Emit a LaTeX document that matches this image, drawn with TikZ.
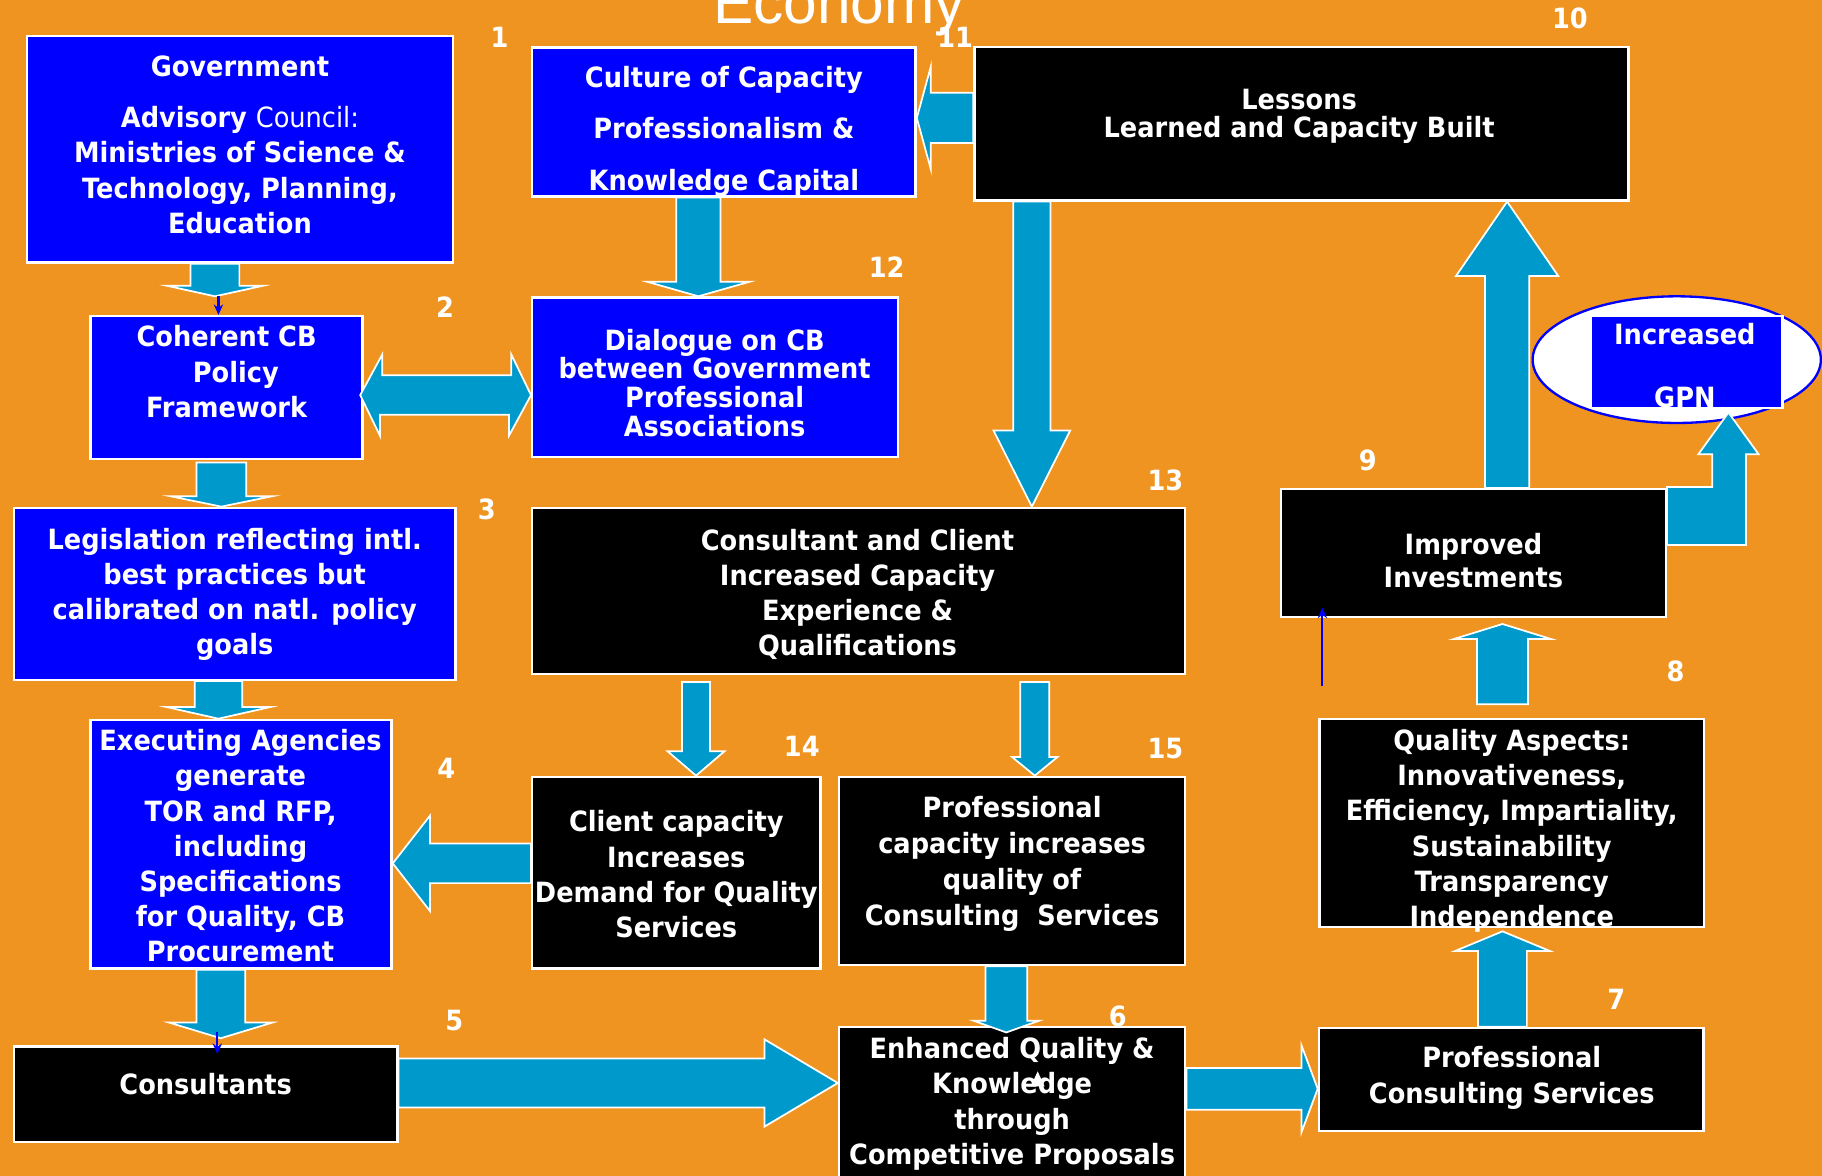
\documentclass[tikz,border=0pt]{standalone}
\usepackage{fontspec}
\setmainfont{DejaVu Sans}[FakeStretch=0.92]
\newfontfamily\titlefont{Liberation Sans}
\usetikzlibrary{calc,arrows.meta,shapes.geometric}

\definecolor{bgorange}{RGB}{239,148,32}
\definecolor{pureblue}{RGB}{0,0,255}
\definecolor{flowcyan}{RGB}{0,153,204}

\tikzset{
  bluebox/.style={draw=white, line width=2pt, fill=pureblue, inner sep=0pt},
  blackbox/.style={draw=white, line width=2pt, fill=black, inner sep=0pt},
  boxtext/.style={text=white, align=center, inner sep=0pt,
    font=\fontsize{24}{#1}\selectfont\bfseries},
  boxtext/.default=30.4,
  numlabel/.style={text=white, inner sep=0pt, font=\fontsize{24}{28}\selectfont\bfseries},
  blockarrow/.style={fill=flowcyan, draw=white, line width=1.5pt, line join=miter},
  thinarrow/.style={draw=pureblue, line width=1.8pt, -{Stealth[length=9pt,width=8pt]}},
}

% block arrows: #1 = position across, #2 = tail, #3 = tip,
% #4 = half shaft width, #5 = half head width, #6 = head length
\newcommand\arrowdown[6]{%
  \draw[blockarrow] let \p1=#2, \p2=#3 in
    (#1pt-#4pt,\y1) -- (#1pt+#4pt,\y1) -- (#1pt+#4pt,\y2+#6pt) -- (#1pt+#5pt,\y2+#6pt)
    -- (#1pt,\y2) -- (#1pt-#5pt,\y2+#6pt) -- (#1pt-#4pt,\y2+#6pt) -- cycle;}
\newcommand\arrowup[6]{%
  \draw[blockarrow] let \p1=#2, \p2=#3 in
    (#1pt-#4pt,\y1) -- (#1pt+#4pt,\y1) -- (#1pt+#4pt,\y2-#6pt) -- (#1pt+#5pt,\y2-#6pt)
    -- (#1pt,\y2) -- (#1pt-#5pt,\y2-#6pt) -- (#1pt-#4pt,\y2-#6pt) -- cycle;}
\newcommand\arrowright[6]{%
  \draw[blockarrow] let \p1=#2, \p2=#3 in
    (\x1,-#1pt+#4pt) -- (\x2-#6pt,-#1pt+#4pt) -- (\x2-#6pt,-#1pt+#5pt) -- (\x2,-#1pt)
    -- (\x2-#6pt,-#1pt-#5pt) -- (\x2-#6pt,-#1pt-#4pt) -- (\x1,-#1pt-#4pt) -- cycle;}
\newcommand\arrowleft[6]{%
  \draw[blockarrow] let \p1=#2, \p2=#3 in
    (\x1,-#1pt+#4pt) -- (\x2+#6pt,-#1pt+#4pt) -- (\x2+#6pt,-#1pt+#5pt) -- (\x2,-#1pt)
    -- (\x2+#6pt,-#1pt-#5pt) -- (\x2+#6pt,-#1pt-#4pt) -- (\x1,-#1pt-#4pt) -- cycle;}

\begin{document}
\begin{tikzpicture}[x=1pt,y=-1pt]
\clip (0,0) rectangle (1568,1012);
\fill[bgorange] (0,0) rectangle (1568,1012);

% title
\node[text=white, inner sep=0pt, anchor=base, font=\titlefont\fontsize{52}{60}\selectfont]
  (title) at (722,20) {Economy};

% boxes
\node[bluebox,  minimum width=367pt, minimum height=195pt] (gov) at (206.5,128.5) {};
\node[bluebox,  minimum width=234pt, minimum height=123pt] (cb)  at (195,333.5) {};
\node[bluebox,  minimum width=380pt, minimum height=148pt] (leg) at (202,511) {};
\node[bluebox,  minimum width=259pt, minimum height=214pt] (exe) at (207.5,726.5) {};
\node[blackbox, minimum width=330pt, minimum height=82pt]  (cons) at (177,941.5) {};
\node[blackbox, minimum width=298pt, minimum height=146pt] (enh) at (871,957) {};
\node[blackbox, minimum width=331pt, minimum height=89pt]  (pcs) at (1300.5,929) {};
\node[blackbox, minimum width=331pt, minimum height=179pt] (qa)  at (1301,708.5) {};
\node[blackbox, minimum width=331pt, minimum height=110pt] (imp) at (1268,476) {};
\node[blackbox, minimum width=563pt, minimum height=132pt] (les) at (1120,106.5) {};
\node[bluebox,  minimum width=330pt, minimum height=128pt] (cul) at (623,105) {};
\node[bluebox,  minimum width=315pt, minimum height=137pt] (dia) at (615.5,324.5) {};
\node[blackbox, minimum width=562pt, minimum height=143pt] (cc)  at (739,508.5) {};
\node[blackbox, minimum width=248pt, minimum height=165pt] (clc) at (582,751) {};
\node[blackbox, minimum width=298pt, minimum height=162pt] (pc)  at (871,749.5) {};
\node[draw=pureblue, line width=2pt, fill=white, ellipse, minimum width=248pt, minimum height=109pt,
  inner sep=0pt] (gpnring) at (1443,309.5) {};
\node[bluebox, minimum width=165pt, minimum height=79pt] (gpn) at (1451.5,311.5) {};

% free ends of the connectors
\coordinate (a1tip) at (185,255);
\coordinate (a4tip) at (190,893.5);
\coordinate (a11tail) at (1293,606);
\coordinate (a11tip) at (1293,537);
\coordinate (a12tip) at (1293,801.5);
\coordinate (a16tail) at (599,587);
\coordinate (a17tail) at (890.5,587);
\coordinate (a18tip) at (866,888.5);
\coordinate (a2tail) at (190.5,398);

% block arrows
\arrowdown{185}{(gov.south)}{(a1tip)}{21}{41}{9}
\draw[thinarrow] (188,255) -- (cb.north -| 188,0);
\arrowdown{190.5}{(a2tail)}{(leg.north)}{21.5}{44}{9}
\arrowdown{188}{(leg.south)}{(exe.north)}{20.5}{44.5}{10}
\arrowdown{190}{(exe.south)}{(a4tip)}{21}{44.5}{13.5}
\draw[thinarrow] (187,888) -- (187,907);
\draw[blockarrow] (cb.east |- 0,340) ++(-3,0) -- ++(19,-35) -- ++(0,18) -- ++(111,0) -- ++(0,-18)
  -- (dia.west |- 0,340) -- ++(-19,35) -- ++(0,-18) -- ++(-111,0) -- ++(0,18) -- cycle;
\arrowdown{601}{(cul.south)}{(dia.north)}{19}{44}{12.5}
\arrowleft{101.5}{(les.west)}{(cul.east)}{21.6}{44}{12}
\arrowdown{888}{(les.south)}{(cc.north)}{16}{33}{65.5}
\arrowup{1297}{(imp.north)}{(les.south)}{19}{44}{64}
\arrowup{1293}{(a11tail)}{(a11tip)}{22}{42}{13}
\arrowup{1293}{(pcs.north)}{(a12tip)}{21}{41}{17}
\arrowright{937}{(enh.east)}{(pcs.west)}{18}{37.5}{14}
\arrowright{932}{(cons.east)}{(enh.west)}{21}{37.5}{63}
\arrowleft{743}{(clc.west)}{(exe.east)}{17}{41}{32}
\arrowdown{599}{(a16tail)}{(clc.north)}{12}{24.5}{21}
\arrowdown{890.5}{(a17tail)}{(pc.north)}{12.5}{19.5}{16}
\arrowdown{866}{(pc.south)}{(a18tip)}{18}{28}{10}
% bent arrow towards the GPN ellipse
\draw[blockarrow] ($(imp.north east)+(0,-1)$) -- ++(39,0) -- ++(0,-28) -- ++(-12,0) -- ++(26,-36)
  -- ++(26,36) -- ++(-11,0) -- ++(0,78) -- ++(-68,0) -- cycle;
\draw[thinarrow] (1138,590) -- (1138,523);
\fill[white] (887,935) -- (893,922) -- (899,935) -- cycle;

% box texts
\node[boxtext] (gov-t) at (206.5,124.5) {Government\\[14pt]Advisory {\mdseries Council:}\\Ministries of Science \&\\Technology, Planning,\\Education};
\node[boxtext=30.5] (cb-t) at (195,320) {Coherent CB\\\hspace*{16pt}Policy\\Framework};
\node[boxtext=30.3] (leg-t) at (202,511.5) {Legislation reflecting intl.\\best practices but\\calibrated on natl. policy\\goals};
\node[boxtext=30.3] (exe-t) at (207,728) {Executing Agencies\\generate\\TOR and RFP,\\including\\Specifications\\for Quality, CB\\Procurement};
\node[boxtext] (cons-t) at (177,933) {Consultants};
\node[boxtext=30.3] (enh-t) at (871,950) {Enhanced Quality \&\\Knowledge\\through\\Competitive Proposals};
\node[boxtext=31] (pcs-t) at (1301,927.5) {Professional\\Consulting Services};
\node[boxtext=30.4] (qa-t) at (1301,715) {Quality Aspects:\\Innovativeness,\\Efficiency, Impartiality,\\Sustainability\\Transparency\\Independence};
\node[boxtext=28] (imp-t) at (1268,482.5) {Improved\\Investments};
\node[boxtext=24] (les-t) at (1118,100) {Lessons\\Learned and Capacity Built};
\node[boxtext=44] (cul-t) at (623,113) {Culture of Capacity\\Professionalism \&\\Knowledge Capital};
\node[boxtext=24.7] (dia-t) at (615,329.5) {Dialogue on CB\\between Government\\Professional\\Associations};
\node[boxtext=30.3] (cc-t) at (738,511.5) {Consultant and Client\\Increased Capacity\\Experience \&\\Qualifications};
\node[boxtext=30.3] (clc-t) at (582,752.5) {Client capacity\\Increases\\Demand for Quality\\Services};
\node[boxtext=31] (pc-t) at (871,743.5) {Professional\\capacity increases\\quality of\\Consulting\ \ Services};
\node[boxtext=54] (gpn-t) at (1450,314.5) {Increased\\GPN};

% step numbers
\node[numlabel] (n1)  at (430,32)   {1};
\node[numlabel] (n2)  at (383,264)  {2};
\node[numlabel] (n3)  at (419,438)  {3};
\node[numlabel] (n4)  at (384,661)  {4};
\node[numlabel] (n5)  at (391,878)  {5};
\node[numlabel] (n6)  at (962,875)  {6};
\node[numlabel] (n7)  at (1391,860) {7};
\node[numlabel] (n8)  at (1442,578) {8};
\node[numlabel] (n9)  at (1177,396) {9};
\node[numlabel] (n10) at (1351,16)  {10};
\node[numlabel] (n11) at (822,32)   {11};
\node[numlabel] (n12) at (763,230)  {12};
\node[numlabel] (n13) at (1003,413) {13};
\node[numlabel] (n14) at (690,642)  {14};
\node[numlabel] (n15) at (1003,644) {15};
\end{tikzpicture}
\end{document}
